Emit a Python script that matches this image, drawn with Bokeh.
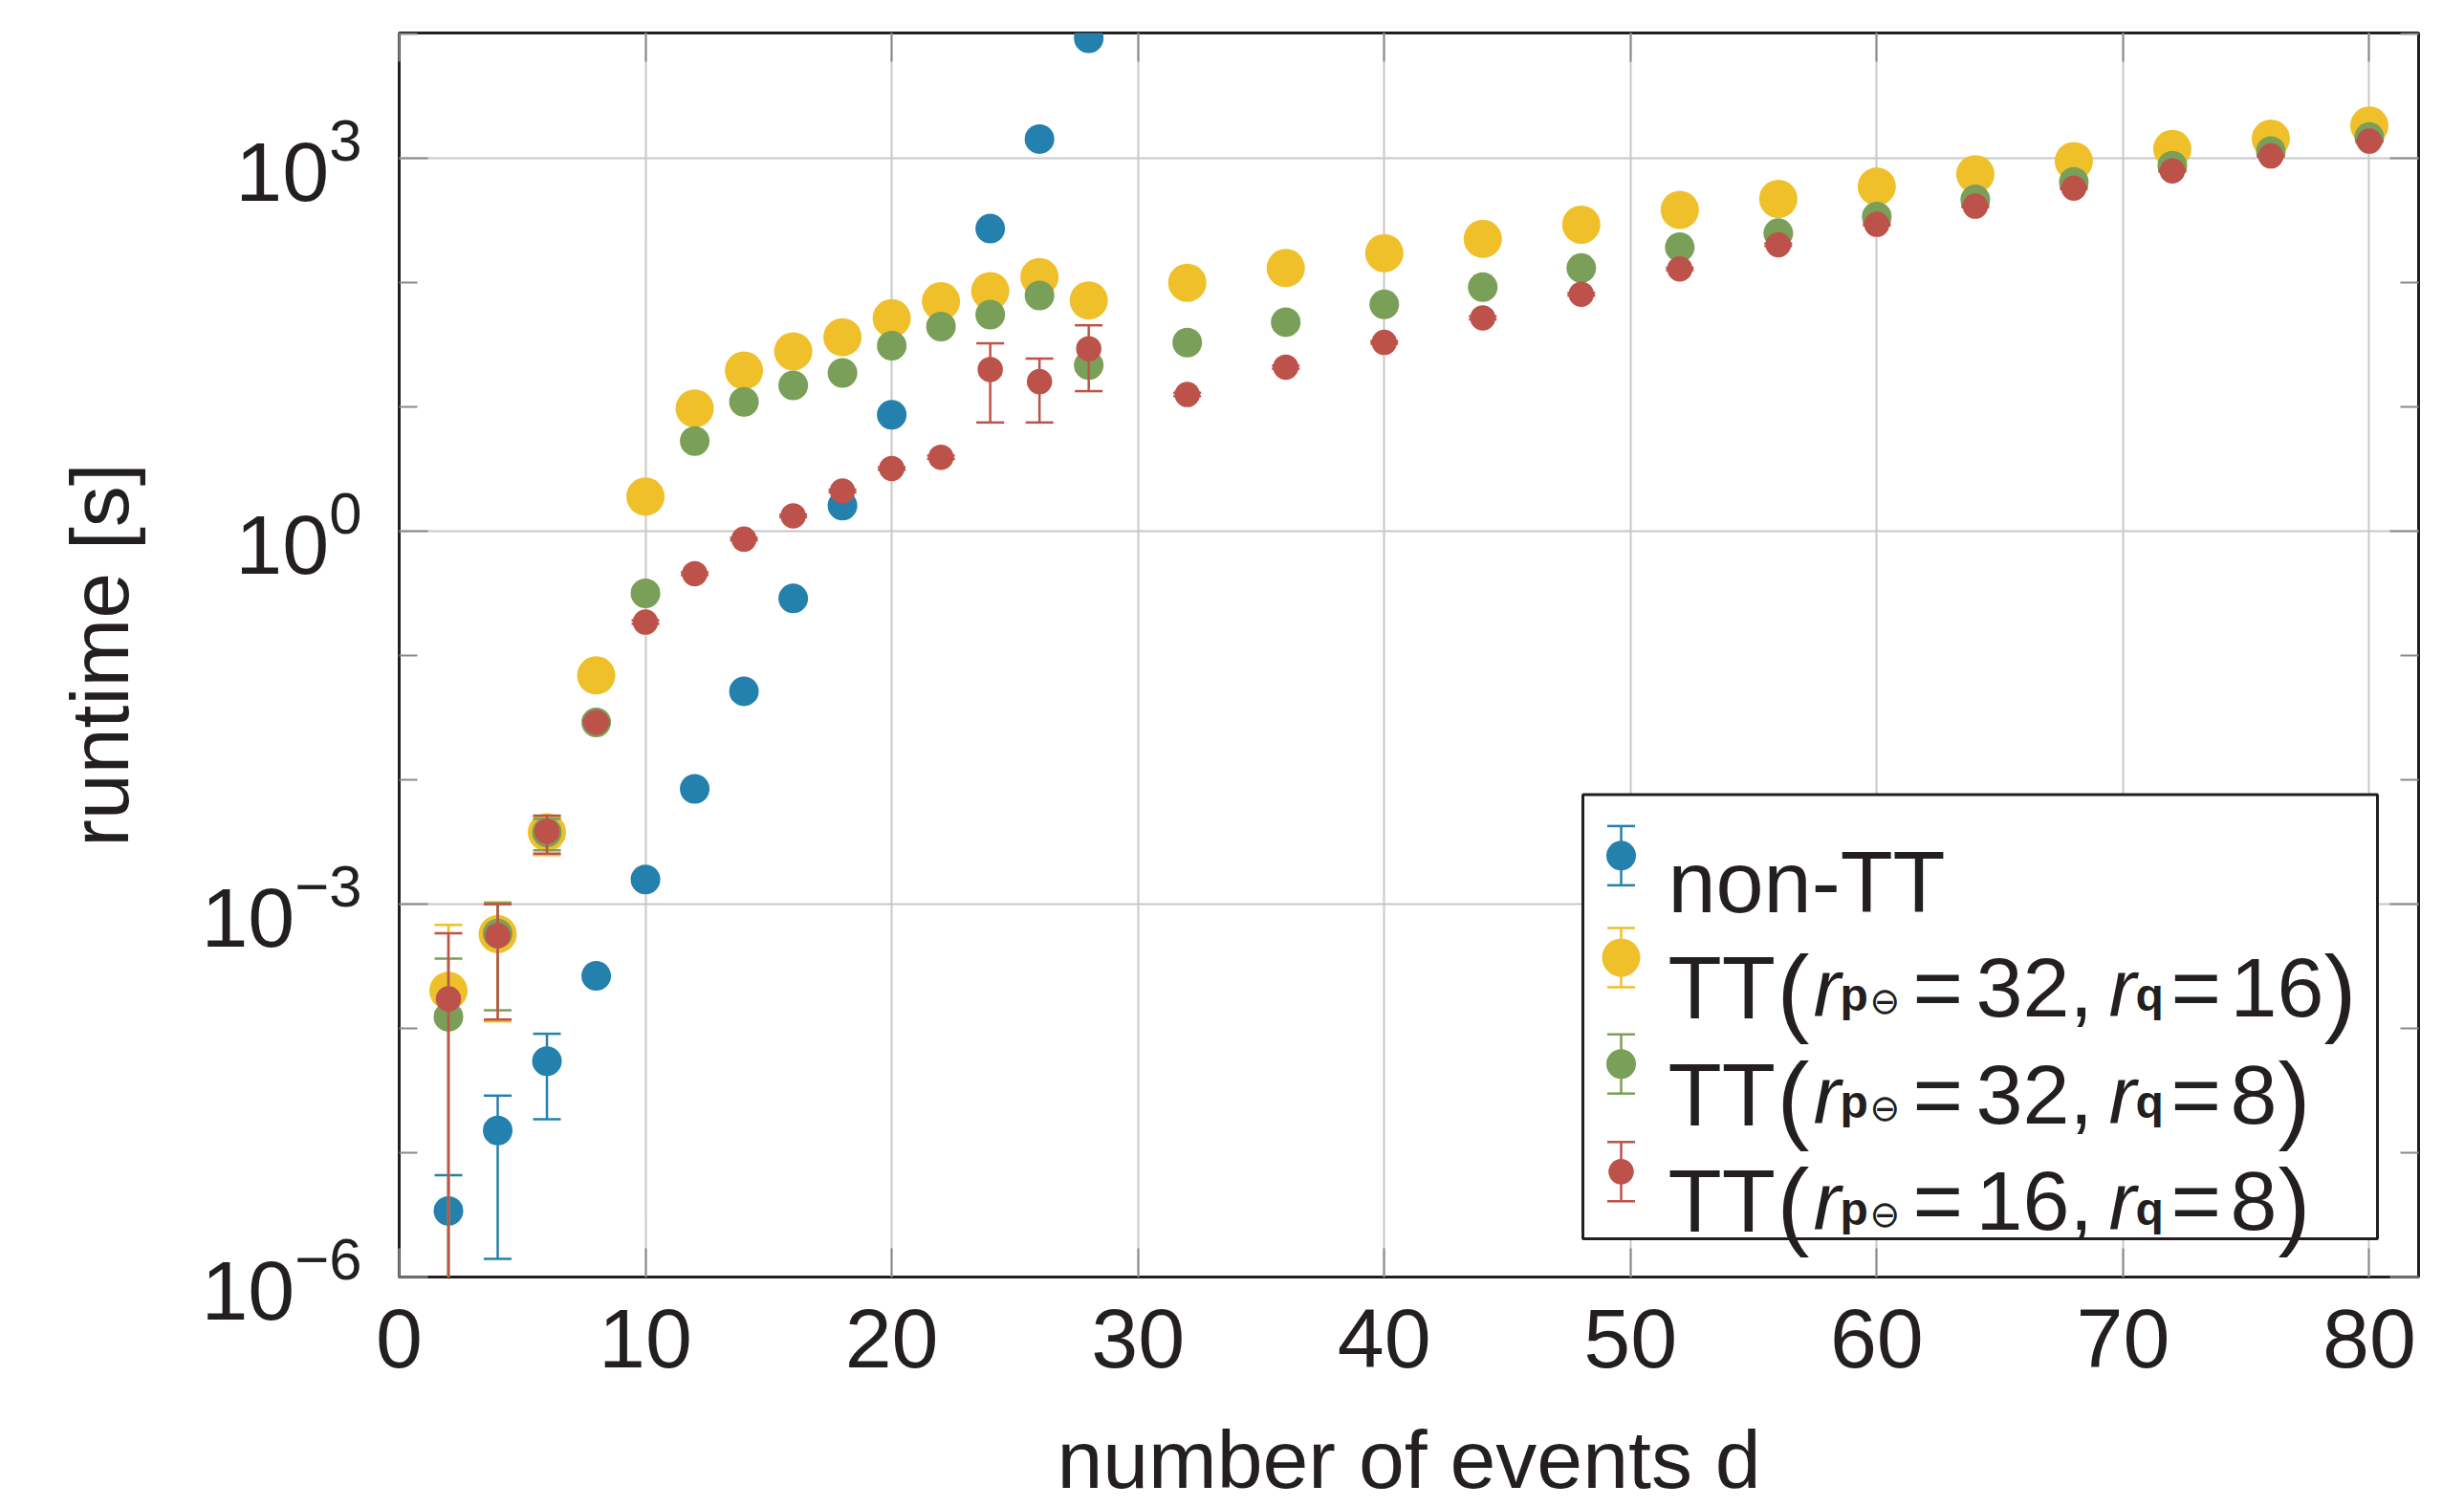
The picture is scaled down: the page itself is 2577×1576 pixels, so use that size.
import numpy as np
from bokeh.plotting import figure
from bokeh.models import (Range1d, FixedTicker, LogAxis, LinearAxis, LogTickFormatter,
                          CustomJSTickFormatter, LinearScale)
from bokeh.core.properties import value
from bokeh.embed import file_html
from bokeh.resources import INLINE

# ---------------- data ----------------
d_non_tt = [2, 4, 6, 8, 10, 12, 14, 16, 18, 20, 24, 26, 28]
t_non_tt = [3.4e-6, 1.51e-5, 5.46e-5, 2.65e-4, 1.58e-3, 8.45e-3, 0.0516, 0.288,
            1.61, 8.65, 272, 1430, 9250]
e_non_tt = [3.2e-6, 1.37e-5, 3.6e-5, 0, 0, 0, 0, 0, 0, 0, 0, 0, 0]

d_tt = [2, 4, 6, 8, 10, 12, 14, 16, 18, 20, 22, 24, 26, 28,
        32, 36, 40, 44, 48, 52, 56, 60, 64, 68, 72, 76, 80]
t_tt_32_16 = [2.01e-4, 5.74e-4, 3.78e-3, 0.0692, 1.90, 9.73, 19.6, 28.0, 36.4, 51.7,
              70.8, 85.5, 111, 72.0, 99.8, 131, 173, 225, 293, 385, 472, 593, 746,
              950, 1190, 1440, 1837]
e_tt_32_16 = [4.8e-4, 4.6e-4, 1.3e-3, 0, 0, 0, 0, 0, 0, 0, 0, 0, 0, 0,
              0, 0, 0, 0, 0, 0, 0, 0, 0, 0, 0, 0, 0]
t_tt_32_8 = [1.24e-4, 5.8e-4, 3.78e-3, 0.029, 0.317, 5.31, 11.0, 14.9, 18.8, 31.1,
             44.3, 55.4, 78.8, 21.7, 33.0, 48.1, 66.8, 91.9, 131, 193, 250, 340, 467,
             646, 874, 1146, 1483]
e_tt_32_8 = [2.4e-4, 4.4e-4, 1.07e-3, 0, 0, 0, 0, 0, 0, 0, 0, 0, 0, 0,
             0, 0, 0, 0, 0, 0, 0, 0, 0, 0, 0, 0, 0]
t_tt_16_8 = [1.73e-4, 5.58e-4, 3.85e-3, 0.029, 0.186, 0.456, 0.865, 1.33, 2.11, 3.2,
             3.94, 20.0, 16.0, 29.4, 12.6, 20.9, 33.1, 52.1, 80.7, 129, 202, 295, 413,
             576, 794, 1047, 1377]
e_tt_16_8 = [4.1e-4, 4.4e-4, 1.3e-3, 0.001, 0.006, 0.012, 0.02, 0.03, 0.05, 0.08,
             0.12, 12.5, 8.5, 16.0, 0.4, 0.6, 0.8, 1.5, 2.0, 3.0, 5.0, 6.0, 8.0,
             10.0, 12.0, 15.0, 20.0]

x_ticks = [0, 10, 20, 30, 40, 50, 60, 70, 80]
y_major = [1e-6, 1e-3, 1e0, 1e3]
y_minor = [1e-5, 1e-4, 1e-2, 1e-1, 1e1, 1e2, 1e4]

legend_main = ["non-TT", "TT", "TT", "TT"]
legend_rp = ["32,", "32,", "16,"]
legend_rq = ["16", "8", "8"]

BLUE, YELLOW, GREEN, RED = "#2480AC", "#EFC02A", "#7A9F58", "#BD524A"
INK = "#231f20"
FONT = "Liberation Sans"

# ---------------- layout ----------------
W, H = 2575, 1576
FL, FR, FT, FB = 417, 2529, 34, 1336          # frame edges in page pixels
FW, FH = FR - FL, FB - FT

p = figure(width=W, height=H, x_range=Range1d(0, 82), y_range=Range1d(1e-6, 1.02e4),
           y_axis_type="log", output_backend="svg", toolbar_location=None,
           min_border_left=FL, min_border_right=W - FR,
           min_border_top=FT, min_border_bottom=H - FB)
p.background_fill_color = "white"
p.border_fill_color = "white"
p.outline_line_color = INK
p.outline_line_width = 3

# frame-pixel coordinate system used only for the legend
p.extra_x_ranges = {"lx": Range1d(0, FW)}
p.extra_y_ranges = {"ly": Range1d(0, FH)}
p.extra_x_scales = {"lx": LinearScale()}
p.extra_y_scales = {"ly": LinearScale()}

xt = FixedTicker(ticks=x_ticks, minor_ticks=[])
yt = FixedTicker(ticks=y_major, minor_ticks=y_minor)

def style_axis(ax):
    ax.axis_line_color = None
    ax.major_tick_in = 30
    ax.major_tick_out = 0
    ax.minor_tick_in = 19
    ax.minor_tick_out = 0
    ax.major_tick_line_color = "#8a8a8a"
    ax.minor_tick_line_color = "#8a8a8a"
    ax.major_tick_line_width = 2
    ax.minor_tick_line_width = 2
    ax.major_label_text_font = FONT
    ax.major_label_text_font_size = "88px"
    ax.major_label_text_color = INK
    ax.axis_label_text_font = FONT
    ax.axis_label_text_font_size = "86px"
    ax.axis_label_text_font_style = "normal"
    ax.axis_label_text_color = INK

xa = p.xaxis[0]
xa.ticker = xt
style_axis(xa)
xa.major_label_standoff = 34
xa.axis_label = "number of events d"
xa.axis_label_standoff = 45
ya = p.yaxis[0]
ya.ticker = yt
style_axis(ya)
ya.formatter = LogTickFormatter()
ya.major_label_standoff = 39
ya.major_label_text_align = "right"
ya.axis_label = "runtime [s]"
ya.axis_label_standoff = 55

blank = CustomJSTickFormatter(code="return ''")
top = LinearAxis(ticker=xt, formatter=blank)
style_axis(top)
top.major_label_standoff = 0
p.add_layout(top, "above")
right = LogAxis(ticker=yt, formatter=blank)
style_axis(right)
right.major_label_standoff = 0
p.add_layout(right, "right")

p.xgrid.ticker = xt
p.ygrid.ticker = yt
for g in (p.xgrid[0], p.ygrid[0]):
    g.grid_line_color = "#c8c8c8"
    g.grid_line_width = 2
p.ygrid[0].minor_grid_line_color = None

# ---------------- data marks ----------------
def series(xs, ys, es, color, size):
    xs = np.asarray(xs, float)
    ys = np.asarray(ys, float)
    es = np.asarray(es, float)
    hi = ys + es
    lo = ys - es
    lo_seg = np.where(lo > 0, lo, 1e-12)
    lo_cap = np.where(lo > 0, lo, np.nan)
    p.segment(x0=xs, y0=lo_seg, x1=xs, y1=hi, line_color=color, line_width=2.5)
    p.scatter(x=np.concatenate([xs, xs]), y=np.concatenate([hi, lo_cap]),
              marker="dash", size=29, line_color=color, line_width=2.5)
    p.scatter(x=xs, y=ys, size=size, fill_color=color, line_color=None)

series(d_non_tt, t_non_tt, e_non_tt, BLUE, 31)
series(d_tt, t_tt_32_16, e_tt_32_16, YELLOW, 40)
series(d_tt, t_tt_32_8, e_tt_32_8, GREEN, 31)
series(d_tt, t_tt_16_8, e_tt_16_8, RED, 26.5)

# ---------------- legend (frame pixel coordinates) ----------------
def fx(px):
    return px - FL

def fy(py):
    return FB - py

L = dict(x_range_name="lx", y_range_name="ly")
p.quad(left=[fx(1655)], right=[fx(2486)], bottom=[fy(1296)], top=[fy(831)],
       fill_color="white", line_color=INK, line_width=3, **L)

leg_colors = [BLUE, YELLOW, GREEN, RED]
leg_sizes = [31, 40, 31, 26.5]
leg_cy = [895, 1001.7, 1113, 1225.7]
mx = fx(1695)
for c, s, cy in zip(leg_colors, leg_sizes, leg_cy):
    p.segment(x0=[mx], y0=[fy(cy) - 31], x1=[mx], y1=[fy(cy) + 31],
              line_color=c, line_width=2.5, **L)
    p.scatter(x=[mx, mx], y=[fy(cy) - 31, fy(cy) + 31], marker="dash", size=29,
              line_color=c, line_width=2.5, **L)
    p.scatter(x=[mx], y=[fy(cy)], size=s, fill_color=c, line_color=None, **L)

def txt(x, y, s, size, style="normal", font=FONT):
    p.text(x=[fx(x)], y=[fy(y)], text=[s], text_font=value(font),
           text_font_size=f"{size}px", text_font_style=style,
           text_align="left", text_baseline="alphabetic", text_color=INK, **L)

txt(1744, 922.7, legend_main[0], 90)
bases = [1033.0, 1145.0, 1256.7]
for i, base in enumerate(bases):
    txt(1744, base, legend_main[i + 1], 92)
    txt(1858, base + 3, "(", 102)
    txt(1896, base, "r", 86, "italic")
    txt(1924, base + 8, "p", 48, "bold")
    txt(1955, base + 14, "\u2296", 38, font="DejaVu Sans")
    txt(2000, base, "=", 90)
    txt(2066, base, legend_rp[i], 88)
    txt(2205, base, "r", 86, "italic")
    txt(2233, base + 8, "q", 48, "bold")
    txt(2270, base, "=", 90)
    txt(2332, base, legend_rq[i], 88)
    px_ = 2332 + len(legend_rq[i]) * 48 + 2
    txt(px_, base + 3, ")", 102)

open("out.html", "w").write(file_html(p, INLINE))
